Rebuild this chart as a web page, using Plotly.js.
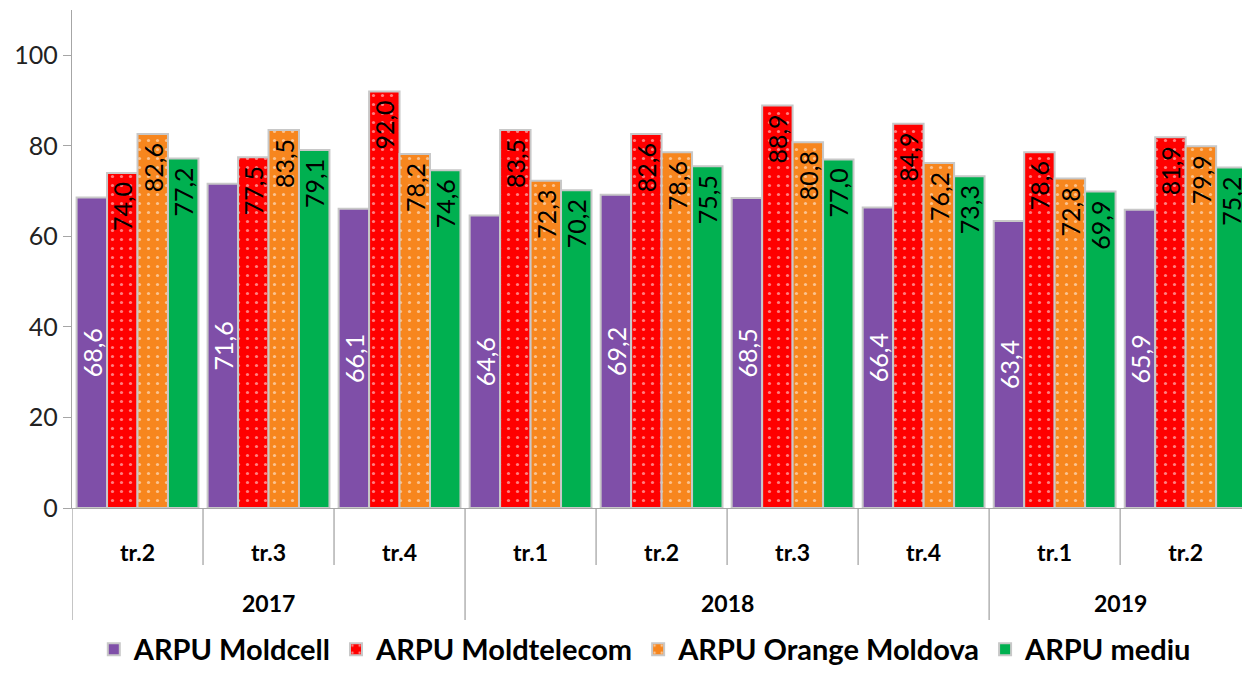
<!DOCTYPE html>
<html>
<head>
<meta charset="utf-8">
<script src="https://cdn.plot.ly/plotly-3.0.1.min.js"></script>
<style>html,body{margin:0;padding:0;background:#fff;}#chart{width:1242px;height:675px;}</style>
</head>
<body>
<div id="chart"></div>
<script>
const quarters = ["tr.2","tr.3","tr.4","tr.1","tr.2","tr.3","tr.4","tr.1","tr.2"];
const years = ["2017","2017","2017","2018","2018","2018","2018","2019","2019"];
const moldcell    = [68.6, 71.6, 66.1, 64.6, 69.2, 68.5, 66.4, 63.4, 65.9];
const moldtelecom = [74.0, 77.5, 92.0, 83.5, 82.6, 88.9, 84.9, 78.6, 81.9];
const orange      = [82.6, 83.5, 78.2, 72.3, 78.6, 80.8, 76.2, 72.8, 79.9];
const mediu       = [77.2, 79.1, 74.6, 70.2, 75.5, 77.0, 73.3, 69.9, 75.2];
const seriesNames = ["ARPU Moldcell","ARPU Moldtelecom","ARPU Orange Moldova","ARPU mediu"];

const FONT = "Lato, 'Open Sans', sans-serif";
const xIdx = quarters.map((_, i) => i);

function mk(name, y, color, txtColor, anchor, pattern, tmpl) {
  const marker = {color: color, line: {color: "#c8c8c8", width: 2}};
  if (pattern) marker.pattern = {shape: ".", fgcolor: "rgba(255,255,255,0.5)", bgcolor: color, size: 9, solidity: 0.1};
  return {
    type: "bar", name: name, x: xIdx, y: y, marker: marker,
    texttemplate: tmpl, textposition: "inside", insidetextanchor: anchor,
    textangle: -90, constraintext: "none", cliponaxis: false,
    textfont: {family: FONT, size: 25, color: txtColor},
    hoverinfo: "skip"
  };
}

const endTmpl = "%{y:.1f}<span style='color:rgba(0,0,0,0)'>.</span>";
const traces = [
  mk(seriesNames[0], moldcell, "#7f4fa8", "#ffffff", "middle", false, "%{y:.1f}"),
  mk(seriesNames[1], moldtelecom, "#ff0000", "#000000", "end", true, endTmpl),
  mk(seriesNames[2], orange, "#f7861e", "#000000", "end", true, endTmpl),
  mk(seriesNames[3], mediu, "#00b050", "#000000", "end", false, endTmpl)
];

// dividers and year labels computed from category indices
const shapes = [];
const annotations = [];
const yearGroups = [];
years.forEach((yr, i) => {
  if (!yearGroups.length || yearGroups[yearGroups.length-1].yr !== yr) yearGroups.push({yr: yr, start: i, end: i});
  else yearGroups[yearGroups.length-1].end = i;
});
const yearBoundaries = yearGroups.map(g => g.start - 0.5);
for (let i = -1; i < quarters.length - 1; i++) {
  const xb = i + 0.5;
  const isYear = yearBoundaries.includes(xb);
  shapes.push({type: "line", xref: "x", yref: "paper", x0: xb, x1: xb, y0: 0, y1: isYear ? -0.225 : -0.1145,
    line: {color: "#a6a6a6", width: 1.3}, layer: "above"});
}
yearGroups.forEach(g => {
  annotations.push({x: (g.start + g.end) / 2, xref: "x", y: -0.19, yref: "paper", text: g.yr, showarrow: false,
    font: {family: FONT, size: 23, color: "#000", weight: "bold"}, yanchor: "middle", xanchor: "center"});
});

const layout = {
  width: 1242, height: 675,
  margin: {l: 72, r: 0, t: 10, b: 167, autoexpand: false},
  paper_bgcolor: "#fff", plot_bgcolor: "#fff",
  separators: ", ",
  barmode: "group", bargap: 0.07, bargroupgap: 0.0,
  font: {family: FONT, color: "#000"},
  xaxis: {
    range: [-0.5, 8.43], tickvals: xIdx, ticktext: quarters, ticks: "",
    showline: true, linecolor: "#a6a6a6", linewidth: 1.3, showgrid: false, zeroline: false,
    tickfont: {family: FONT, size: 23, color: "#000", weight: "bold"}, ticklabelstandoff: 24
  },
  yaxis: {
    range: [0, 110], tickvals: [0, 20, 40, 60, 80, 100], ticks: "outside", ticklen: 8, tickcolor: "#a6a6a6",
    showline: true, linecolor: "#a6a6a6", linewidth: 1.3, showgrid: false, zeroline: false,
    tickfont: {family: FONT, size: 25, color: "#222"}
  },
  showlegend: true,
  legend: {orientation: "h", x: 0.49, xanchor: "center", y: -0.335, yanchor: "bottom",
    font: {family: FONT, size: 29, color: "#000", weight: "bold"}, itemwidth: 30, traceorder: "normal"},
  shapes: shapes,
  annotations: annotations
};

Plotly.newPlot("chart", traces, layout, {displayModeBar: false, staticPlot: true});
</script>
</body>
</html>
